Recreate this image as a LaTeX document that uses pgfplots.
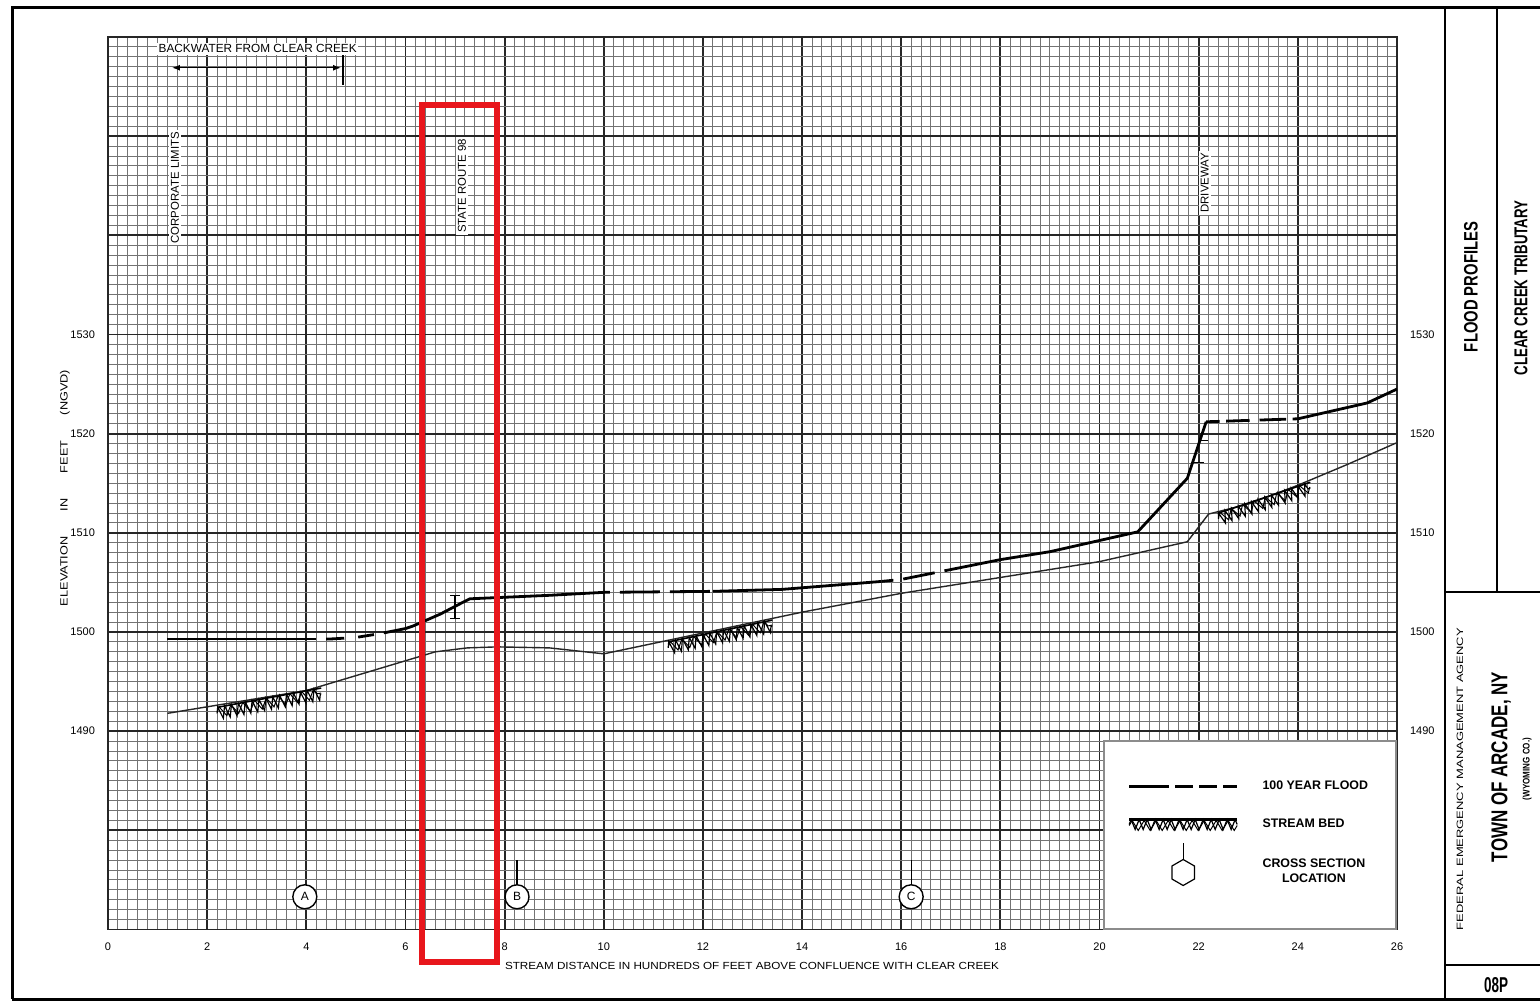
\documentclass[border=0pt]{standalone}
\usepackage{fontspec}
\setmainfont{Liberation Sans}
\usepackage{graphicx}
\usepackage{pgfplots}
\pgfplotsset{compat=1.18}
\usepackage{pgfplotstable}
\usetikzlibrary{decorations.pathmorphing, arrows.meta}
\definecolor{boxred}{RGB}{232,22,28}

% 100-year flood profile, split by line style
\pgfplotstableread{
x y
1.2 1499.3
4.2 1499.3
}\floodA
\pgfplotstableread{
x y
4.2 1499.3
4.5 1499.3
5.0 1499.45
5.5 1499.85
6.0 1500.35
}\floodB
\pgfplotstableread{
x y
6.0 1500.35
6.15 1500.6
6.7 1501.8
7.16 1503.0
7.3 1503.35
8.9 1503.7
10.0 1504.0
}\floodC
\pgfplotstableread{
x y
10.0 1504.0
12.2 1504.1
}\floodD
\pgfplotstableread{
x y
12.2 1504.1
13.6 1504.3
15.6 1505.1
}\floodE
\pgfplotstableread{
x y
15.6 1505.1
16.0 1505.3
17.6 1506.9
}\floodF
\pgfplotstableread{
x y
17.6 1506.9
18.0 1507.3
19.0 1508.1
20.77 1510.1
21.77 1515.5
22.15 1521.2
}\floodG
\pgfplotstableread{
x y
22.15 1521.2
24.0 1521.5
}\floodH
\pgfplotstableread{
x y
24.0 1521.5
25.4 1523.1
26.0 1524.5
}\floodI
% stream bed
\pgfplotstableread{
x y
1.2 1491.8
4.0 1494.1
6.2 1497.4
6.6 1498.0
7.25 1498.4
7.85 1498.5
8.9 1498.4
10.0 1497.8
12.0 1499.9
14.0 1502.0
16.0 1503.9
18.0 1505.5
19.0 1506.3
20.0 1507.1
21.77 1509.1
22.2 1511.9
23.0 1512.9
24.0 1514.8
25.0 1516.9
26.0 1519.1
}\bed
% cross sections
\pgfplotstableread{
x y label
3.97 1473.3 A
8.25 1473.3 B
16.2 1473.3 C
}\xsec

\begin{document}
\begin{tikzpicture}
\useasboundingbox (0pt,0pt) rectangle (770pt,501pt);
\fill[white] (0pt,0pt) rectangle (770pt,501pt);
\begin{axis}[
  at={(54pt,36.25pt)}, anchor=south west,
  scale only axis, width=644.5pt, height=446.25pt,
  xmin=0, xmax=26, ymin=1470, ymax=1560,
  xtick={0,2,...,26},
  xticklabels={0,2,4,6,8,10,12,14,16,18,20,22,24,26},
  ytick={1470,1480,...,1560},
  yticklabels={{},{},1490,1500,1510,1520,1530,{},{},{}},
  minor x tick num=9, minor y tick num=9,
  grid=both,
  minor grid style={black!55, line width=0.5pt},
  major grid style={black!85, line width=0.9pt},
  major tick length=0pt, minor tick length=0pt,
  axis line style={black!85, line width=0.9pt},
  ticklabel style={font=\fontsize{5.5}{6}\selectfont},
  xticklabel style={yshift=-3pt},
  yticklabel style={xshift=-3pt},
  legend style={at={(1,0)}, anchor=south east, draw=black!45, line width=1pt,
    fill=white, inner xsep=12pt, inner ysep=18pt, row sep=9pt,
    font=\fontsize{6.2}{6.8}\selectfont\bfseries,
    /tikz/every odd column/.append style={column sep=10pt}},
  legend cell align=left,
]
\addlegendimage{legend image code/.code={
  \draw[black, line width=1.4pt, dash pattern=on 20pt off 3pt on 9pt off 3pt on 9pt off 3pt on 20pt] (0pt,0pt) -- (54pt,0pt);
  \path[draw=none, fill=none] (0pt,-5pt) rectangle (54pt,5pt);}}
\addlegendentry{100 YEAR FLOOD}
\addlegendimage{legend image code/.code={
  \draw[black, line width=1.1pt] (0pt,2.5pt) -- (54pt,2.5pt);
  \draw[black, line width=0.6pt, decorate, decoration={zigzag, segment length=4pt, amplitude=2.5pt}] (0pt,0pt) -- (54pt,0pt);
  \draw[black, line width=0.5pt, decorate, decoration={zigzag, segment length=6pt, amplitude=2.5pt}] (0pt,-0.5pt) -- (54pt,-0.5pt);
  \path[draw=none, fill=none] (0pt,-5pt) rectangle (54pt,5pt);}}
\addlegendentry{STREAM BED}
\addlegendimage{legend image code/.code={
  \draw[black, line width=0.6pt] (27pt,6.5pt) -- (21.37pt,3.25pt) -- (21.37pt,-3.25pt) -- (27pt,-6.5pt) -- (32.63pt,-3.25pt) -- (32.63pt,3.25pt) -- cycle;
  \draw[black, line width=0.6pt, overlay] (27pt,6.5pt) -- (27pt,15pt);
  \path[draw=none, fill=none] (0pt,-10pt) rectangle (54pt,10pt);}}
\addlegendentry{\shortstack{CROSS SECTION\\LOCATION}}

% stream bed
\addplot[black!85, line width=0.7pt] table {\bed};
% stream bed hatching
\addplot[black, line width=0.6pt, decorate, decoration={zigzag, segment length=3.5pt, amplitude=3pt}] coordinates {(2.2,1491.8) (4.3,1493.75)};
\addplot[black, line width=0.5pt, decorate, decoration={zigzag, segment length=6pt, amplitude=2.5pt}] coordinates {(2.2,1491.9) (4.3,1493.85)};
\addplot[black, line width=0.8pt] coordinates {(2.2,1492.4) (4.3,1494.35)};
\addplot[black, line width=0.6pt, decorate, decoration={zigzag, segment length=3.5pt, amplitude=3pt}] coordinates {(11.3,1498.4) (13.4,1500.6)};
\addplot[black, line width=0.5pt, decorate, decoration={zigzag, segment length=6pt, amplitude=2.5pt}] coordinates {(11.3,1498.5) (13.4,1500.7)};
\addplot[black, line width=0.8pt] coordinates {(11.3,1499.0) (13.4,1501.2)};
\addplot[black, line width=0.6pt, decorate, decoration={zigzag, segment length=3.5pt, amplitude=3pt}] coordinates {(22.4,1511.4) (24.25,1514.5)};
\addplot[black, line width=0.5pt, decorate, decoration={zigzag, segment length=6pt, amplitude=2.5pt}] coordinates {(22.4,1511.5) (24.25,1514.6)};
\addplot[black, line width=0.8pt] coordinates {(22.4,1512.0) (24.25,1515.1)};

% 100-year flood
\addplot[black, line width=1.4pt] table {\floodA};
\addplot[black, line width=1.4pt, dash pattern=on 0pt off 5pt on 9pt off 7pt on 8pt off 5pt on 30pt] table {\floodB};
\addplot[black, line width=1.4pt] table {\floodC};
\addplot[black, line width=1.4pt, dash pattern=on 3pt off 5pt on 20pt off 5pt on 20pt off 5pt] table {\floodD};
\addplot[black, line width=1.4pt] table {\floodE};
\addplot[black, line width=1.4pt, dash pattern=on 6pt off 5pt on 16pt off 5pt on 20pt] table {\floodF};
\addplot[black, line width=1.4pt] table {\floodG};
\addplot[black, line width=1.4pt, dash pattern=on 6.7pt off 3.3pt on 11.7pt off 5pt on 13.3pt off 3.3pt on 10pt] table {\floodH};
\addplot[black, line width=1.4pt] table {\floodI};

% bridge / driveway marks
\addplot[black, line width=0.6pt] coordinates {(6.9,1503.7) (7.1,1503.7)};
\addplot[black, line width=0.6pt] coordinates {(7.0,1503.7) (7.0,1501.4)};
\addplot[black, line width=0.6pt] coordinates {(6.9,1501.4) (7.1,1501.4)};
\addplot[black, line width=0.6pt] coordinates {(22.0,1519.3) (22.18,1519.3)};
\addplot[black, line width=0.6pt] coordinates {(21.9,1517.1) (22.1,1517.1)};

% cross sections
\addplot[black, line width=0.6pt] coordinates {(8.25,1474.5) (8.25,1477.0)};
\addplot[black, line width=0.6pt] coordinates {(16.2,1474.5) (16.2,1477.0)};
\addplot[only marks, mark=*, mark size=6pt, mark options={fill=white, draw=black, line width=0.7pt},
  nodes near coords, point meta=explicit symbolic,
  every node near coord/.style={anchor=center, font=\fontsize{6}{6}\selectfont}]
  table[meta=label] {\xsec};

% backwater arrow
\addplot[black, line width=0.7pt, {Latex[length=4pt,width=3pt]}-{Latex[length=4pt,width=3pt]}] coordinates {(1.29,1556.9) (4.70,1556.9)};
\addplot[black, line width=0.7pt] coordinates {(4.74,1555.2) (4.74,1558.6)};
\node[fill=white, inner sep=0.8pt, font=\fontsize{5.9}{6}\selectfont] at (axis cs:3.02,1558.8) {BACKWATER FROM CLEAR CREEK};

% vertical annotations
\node[rotate=90, fill=white, inner sep=1pt, font=\fontsize{5.7}{6}\selectfont] at (axis cs:1.35,1544.8) {CORPORATE LIMITS};
\node[rotate=90, fill=white, inner sep=1pt, font=\fontsize{5.7}{6}\selectfont] at (axis cs:7.14,1545.0) {STATE ROUTE 98};
\node[rotate=90, fill=white, inner sep=1pt, font=\fontsize{5.7}{6}\selectfont] at (axis cs:22.12,1545.3) {DRIVEWAY};
\end{axis}

% right-hand elevation labels
\begin{axis}[
  at={(54pt,36.25pt)}, anchor=south west,
  scale only axis, width=644.5pt, height=446.25pt,
  xmin=0, xmax=26, ymin=1470, ymax=1560,
  hide x axis, axis y line*=right,
  ytick={1470,1480,...,1560},
  yticklabels={{},{},1490,1500,1510,1520,1530,{},{},{}},
  axis line style={draw=none},
  major tick length=0pt,
  ticklabel style={font=\fontsize{5.5}{6}\selectfont},
  yticklabel style={xshift=3pt},
]
\end{axis}

% axis titles
\node[rotate=90] at (32.5pt,257pt) {\resizebox{118pt}{3.8pt}{ELEVATION\hspace{2em}IN\hspace{2em}FEET\hspace{2em}(NGVD)}};
\node at (376pt,18pt) {\resizebox{247pt}{3.6pt}{STREAM DISTANCE IN HUNDREDS OF FEET ABOVE CONFLUENCE WITH CLEAR CREEK}};

% frame and title block
\draw[line width=1.5pt] (6pt,1.5pt) -- (6pt,497pt) -- (775pt,497pt);
\draw[line width=1.5pt] (6pt,1.5pt) -- (775pt,1.5pt);
\draw[line width=1.3pt] (722.5pt,1.5pt) -- (722.5pt,497pt);
\draw[line width=1.3pt] (748.5pt,205pt) -- (748.5pt,497pt);
\draw[line width=1.3pt] (722.5pt,205pt) -- (775pt,205pt);
\draw[line width=1.3pt] (722.5pt,18.5pt) -- (775pt,18.5pt);

\node[rotate=90] at (735.5pt,357.5pt) {\resizebox{65pt}{6.8pt}{\bfseries FLOOD PROFILES}};
\node[rotate=90] at (760.5pt,357pt) {\resizebox{87.5pt}{6.5pt}{\bfseries CLEAR CREEK TRIBUTARY}};
\node[rotate=90] at (730pt,111.5pt) {\resizebox{151pt}{3.2pt}{FEDERAL EMERGENCY MANAGEMENT AGENCY}};
\node[rotate=90] at (750.5pt,117.5pt) {\resizebox{95pt}{8pt}{\bfseries TOWN OF ARCADE, NY}};
\node[rotate=90] at (763.5pt,116.5pt) {\resizebox{31pt}{3.5pt}{\bfseries (WYOMING CO.)}};
\node at (748pt,8.5pt) {\resizebox{12pt}{7.5pt}{\bfseries 08P}};

% highlight box
\draw[boxred, line width=3pt] (211pt,20pt) rectangle (248.5pt,448.5pt);
\end{tikzpicture}
\end{document}
